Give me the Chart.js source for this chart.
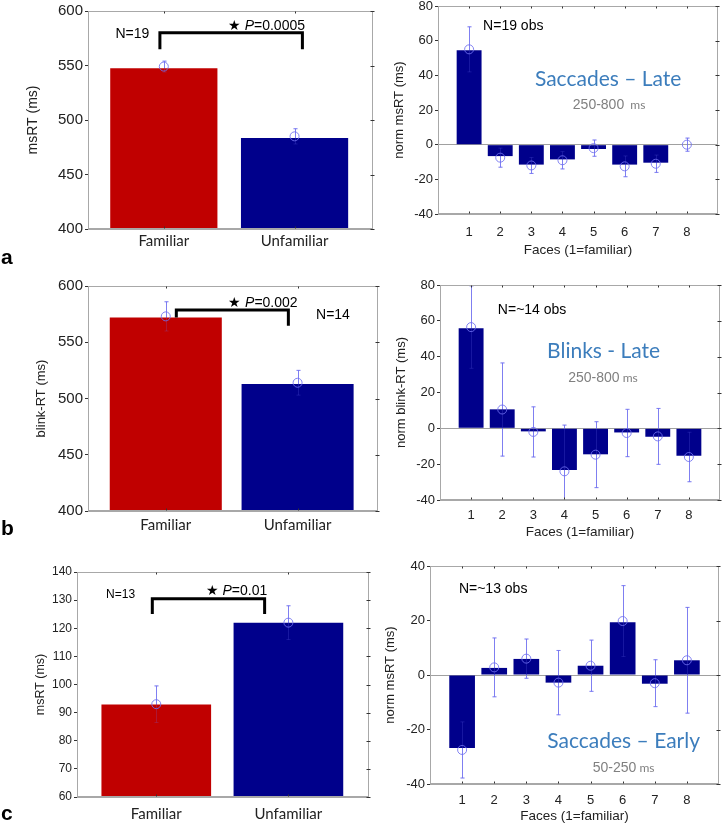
<!DOCTYPE html>
<html>
<head>
<meta charset="utf-8">
<script src="https://cdn.jsdelivr.net/npm/chart.js@4.4.1/dist/chart.umd.min.js"></script>
<style>
body{margin:0;background:#fff;}
#fig{position:relative;width:726px;height:825px;overflow:hidden;background:#fff;}
#fig canvas{position:absolute;}
.tag{position:absolute;left:1px;font:bold 21px "Liberation Sans",Arial,sans-serif;color:#000;line-height:24px;}
</style>
</head>
<body>
<div id="fig">
  <canvas id="aL" width="385" height="262" style="left:0;top:0"></canvas>
  <canvas id="aR" width="346" height="266" style="left:380px;top:-4px"></canvas>
  <canvas id="bL" width="385" height="275" style="left:0;top:262px"></canvas>
  <canvas id="bR" width="346" height="280" style="left:380px;top:262px"></canvas>
  <canvas id="cL" width="385" height="283" style="left:0;top:542px"></canvas>
  <canvas id="cR" width="346" height="283" style="left:380px;top:542px"></canvas>
  <div class="tag" style="top:245px">a</div>
  <div class="tag" style="top:516px">b</div>
  <div class="tag" style="top:801px">c</div>
</div>
<script>
// categories
const groupLabels = ['Familiar', 'Unfamiliar'];
const faces = [1, 2, 3, 4, 5, 6, 7, 8];

// a - saccades late
const sacLateGroupRT = [547.5, 483.5];
const sacLateGroupMean = [549, 485];
const sacLateGroupErr = [5, 7];
const sacLateFaceRT = [54.5, -6.6, -11.5, -8.5, -2.5, -11.5, -10.4, 0];
const sacLateFaceMean = [55, -7.5, -12, -9, -2, -12.5, -11, 0];
const sacLateFaceErr = [13, 5.5, 4.6, 5, 4.7, 6, 5, 3.8];

// b - blinks late
const blinkLateGroupRT = [572, 513];
const blinkLateGroupMean = [573, 514];
const blinkLateGroupErr = [13, 11];
const blinkLateFaceRT = [55.8, 10.6, -1.7, -23.3, -14.5, -2.3, -4.7, -15.3];
const blinkLateFaceMean = [56.5, 10.5, -2, -24, -14.7, -2.6, -4.5, -16];
const blinkLateFaceErr = [23, 26, 14, 25.8, 18.4, 13.2, 15.6, 13.8];

// c - saccades early
const sacEarlyGroupRT = [92.9, 122];
const sacEarlyGroupMean = [93, 122];
const sacEarlyGroupErr = [6.5, 6];
const sacEarlyFaceRT = [-26.8, 2.6, 5.9, -2.8, 3.4, 19.4, -3.2, 5.4];
const sacEarlyFaceMean = [-27.5, 2.8, 6, -2.8, 3.4, 19.8, -3, 5.4];
const sacEarlyFaceErr = [10.3, 10.8, 7.2, 11.8, 9.4, 13, 8.6, 19.4];

const SANS = '"Liberation Sans", Arial, sans-serif';
const CAL = 'Lato, "Open Sans", sans-serif';
const RED = '#c00000', BLUE = '#00008b';
const errColor = 'rgba(110,110,240,0.85)';
const axisGray = '#a8a8a8';
const titleBlue = '#3c7dbc', noteGray = '#808080';

function runs(parts) {
  return parts.map(p => ({text: p[0], font: p[1], color: p[2] || '#000'}));
}
function star(p, size) {
  return runs([['\u2605 ', size + 'px ' + SANS], ['P', 'italic ' + size + 'px ' + SANS], [p, size + 'px ' + SANS]]);
}

function drawRuns(ctx, list, x, y, align) {
  let w = 0, big = 0;
  list.forEach(r => { ctx.font = r.font; w += ctx.measureText(r.text).width; big = Math.max(big, parseFloat(r.font.match(/(\d+(\.\d+)?)px/)[1])); });
  let cx = align === 'left' ? x : align === 'right' ? x - w : x - w / 2;
  ctx.textAlign = 'left';
  ctx.textBaseline = 'alphabetic';
  list.forEach(r => {
    ctx.font = r.font; ctx.fillStyle = r.color;
    ctx.fillText(r.text, cx, y + big * 0.36);
    cx += ctx.measureText(r.text).width;
  });
}

function drawErrors(chart, alpha) {
  const {ctx, chartArea: a, scales: {x, y}} = chart;
  ctx.save();
  ctx.beginPath(); ctx.rect(a.left, a.top, a.width, a.height); ctx.clip();
  ctx.globalAlpha = alpha;
  chart.data.datasets.forEach(ds => {
    if (!ds.errors) return;
    ctx.strokeStyle = errColor; ctx.lineWidth = 1;
    ds.data.forEach((p, i) => {
      const px = Math.round(x.getPixelForValue(p.x)) + 0.5;
      const hi = y.getPixelForValue(p.y + ds.errors[i]);
      const lo = y.getPixelForValue(p.y - ds.errors[i]);
      ctx.beginPath();
      ctx.moveTo(px, hi); ctx.lineTo(px, lo);
      ctx.moveTo(px - 2, hi); ctx.lineTo(px + 2, hi);
      ctx.moveTo(px - 2, lo); ctx.lineTo(px + 2, lo);
      ctx.stroke();
    });
  });
  ctx.restore();
}

// frame, inner ticks, error bars, brackets and notes
const frame = {
  id: 'frame',
  beforeDatasetsDraw(chart) { drawErrors(chart, 1); },
  afterDatasetsDraw(chart) { drawErrors(chart, 0.25); },
  afterDraw(chart, args, o) {
    const {ctx, chartArea: a, scales: {x, y}} = chart;
    ctx.save();
    const L = Math.round(a.left) + 0.5, R = Math.round(a.right) - 0.5;
    const T = Math.round(a.top) + 0.5, B = Math.round(a.bottom) - 0.5;
    ctx.strokeStyle = axisGray; ctx.lineWidth = 1;
    ctx.strokeRect(L, T, R - L, B - T);
    ctx.strokeStyle = '#333';
    ctx.beginPath();
    x.ticks.forEach(t => {
      const px = Math.round(x.getPixelForValue(t.value)) + 0.5;
      ctx.moveTo(px, T); ctx.lineTo(px, T + 2);
      ctx.moveTo(px, B); ctx.lineTo(px, B - 2);
    });
    y.ticks.forEach(t => {
      const py = Math.round(y.getPixelForValue(t.value)) + 0.5;
      ctx.moveTo(R - 2, py); ctx.lineTo(R + 2, py);
    });
    ctx.stroke();
    (o.brackets || []).forEach(b => {
      ctx.strokeStyle = '#000'; ctx.lineWidth = 3; ctx.lineJoin = 'miter';
      ctx.beginPath();
      ctx.moveTo(x.getPixelForValue(b.x1), y.getPixelForValue(b.b1));
      ctx.lineTo(x.getPixelForValue(b.x1), y.getPixelForValue(b.top));
      ctx.lineTo(x.getPixelForValue(b.x2), y.getPixelForValue(b.top));
      ctx.lineTo(x.getPixelForValue(b.x2), y.getPixelForValue(b.b2));
      ctx.stroke();
    });
    (o.notes || []).forEach(n => drawRuns(ctx, n.runs, x.getPixelForValue(n.x), y.getPixelForValue(n.y), n.align));
    ctx.restore();
  }
};

function panel(id, o) {
  const pos = o.labels ? o.labels.map((l, i) => i + 1) : o.cats;
  new Chart(document.getElementById(id), {
    data: {
      datasets: [
        {type: 'line', order: 0, data: pos.map((c, i) => ({x: c, y: o.mean[i]})), errors: o.err,
         showLine: false, pointStyle: 'circle', pointRadius: 4.5, pointBorderWidth: 1,
         borderColor: errColor, backgroundColor: 'rgba(0,0,0,0)'},
        {type: 'bar', order: 1, data: pos.map((c, i) => ({x: c, y: o.vals[i]})),
         backgroundColor: o.colors, borderWidth: 0, barPercentage: o.barPct, categoryPercentage: 1}
      ]
    },
    options: {
      responsive: false, animation: false, devicePixelRatio: 1,
      layout: {padding: {top: o.box.top, right: o.box.right, left: 0, bottom: 0}},
      plugins: {legend: {display: false}, tooltip: {enabled: false},
                frame: {brackets: o.brackets, notes: o.notes}},
      scales: {
        x: {
          type: 'linear', min: o.xMin, max: o.xMax, offset: false,
          afterBuildTicks: s => { s.ticks = pos.map(v => ({value: v})); },
          afterFit: s => { s.height = o.box.xH; },
          grid: {display: false, drawTicks: false},
          border: {color: axisGray},
          ticks: {padding: o.box.xPad, color: '#222', autoSkip: false, maxRotation: 0,
                  font: o.labels ? {family: CAL, size: 15} : {family: SANS, size: 13},
                  callback: v => o.labels ? o.labels[v - 1] : String(v)},
          title: o.xTitle ? {display: true, text: o.xTitle, color: '#222', font: {family: SANS, size: 13.5},
                             padding: {top: 0, bottom: o.box.xtPad}} : {display: false}
        },
        y: {
          min: o.yMin, max: o.yMax,
          afterFit: s => { s.width = o.box.yW; },
          ticks: {stepSize: o.yStep, color: '#222', padding: 2, font: {family: SANS, size: o.fs}},
          grid: {color: c => (o.zero && c.tick && c.tick.value === 0) ? '#a0a0a0' : 'rgba(0,0,0,0)',
                 tickColor: '#333', tickLength: 3},
          border: {color: axisGray},
          title: {display: true, text: o.yTitle, color: '#222', font: {family: SANS, size: o.tfs},
                  padding: {top: o.box.ytPad, bottom: 0}}
        }
      }
    },
    plugins: [frame]
  });
}

const groupColors = [RED, BLUE];

panel('aL', {
  labels: groupLabels, vals: sacLateGroupRT, mean: sacLateGroupMean, err: sacLateGroupErr,
  colors: groupColors, barPct: 0.82, xMin: 0.42, xMax: 2.6, yMin: 400, yMax: 600, yStep: 50, fs: 15, tfs: 14,
  yTitle: 'msRT (ms)',
  box: {top: 10, right: 12, yW: 88, xH: 33, xPad: 3, ytPad: 25},
  brackets: [{x1: 0.97, x2: 2.06, top: 580, b1: 565, b2: 565}],
  notes: [{x: 2.08, y: 587, align: 'right', runs: star('=0.0005', 14)},
          {x: 0.63, y: 580, align: 'left', runs: runs([['N=19', '14px ' + SANS]])}]
});

panel('aR', {
  cats: faces, vals: sacLateFaceRT, mean: sacLateFaceMean, err: sacLateFaceErr,
  colors: BLUE, barPct: 0.8, xMin: 0, xMax: 9, yMin: -40, yMax: 80, yStep: 20, fs: 13, tfs: 13, zero: true,
  yTitle: 'norm msRT (ms)', xTitle: 'Faces (1=familiar)',
  box: {top: 10, right: 8, yW: 58, xH: 48, xPad: 11, ytPad: 12, xtPad: 4},
  notes: [{x: 1.45, y: 69.2, align: 'left', runs: runs([['N=19 obs', '14px ' + SANS]])},
          {x: 5.47, y: 38.1, align: 'center', runs: runs([['Saccades \u2013 Late', '21px ' + CAL, titleBlue]])},
          {x: 5.5, y: 23.4, align: 'center', runs: runs([['250-800', '14px ' + SANS, noteGray], ['  ms', '12px ' + CAL, noteGray]])}]
});

panel('bL', {
  labels: groupLabels, vals: blinkLateGroupRT, mean: blinkLateGroupMean, err: blinkLateGroupErr,
  colors: groupColors, barPct: 0.85, xMin: 0.41, xMax: 2.61, yMin: 400, yMax: 600, yStep: 50, fs: 15, tfs: 13,
  yTitle: 'blink-RT (ms)',
  box: {top: 24, right: 7, yW: 88, xH: 26, xPad: 5, ytPad: 34},
  brackets: [{x1: 1.08, x2: 1.93, top: 578.6, b1: 572, b2: 564.6}],
  notes: [{x: 2.0, y: 585.8, align: 'right', runs: star('=0.002', 14)},
          {x: 2.14, y: 575, align: 'left', runs: runs([['N=14', '14px ' + SANS]])}]
});

panel('bR', {
  cats: faces, vals: blinkLateFaceRT, mean: blinkLateFaceMean, err: blinkLateFaceErr,
  colors: BLUE, barPct: 0.8, xMin: 0, xMax: 9, yMin: -40, yMax: 80, yStep: 20, fs: 13, tfs: 13, zero: true,
  yTitle: 'norm blink-RT (ms)', xTitle: 'Faces (1=familiar)',
  box: {top: 23, right: 6, yW: 60, xH: 42, xPad: 8, ytPad: 14, xtPad: 2},
  notes: [{x: 1.86, y: 66.6, align: 'left', runs: runs([['N=~14 obs', '14px ' + SANS]])},
          {x: 5.26, y: 43.7, align: 'center', runs: runs([['Blinks - Late', '21px ' + CAL, titleBlue]])},
          {x: 5.24, y: 28.7, align: 'center', runs: runs([['250-800', '14px ' + SANS, noteGray], [' ms', '12px ' + CAL, noteGray]])}]
});

panel('cL', {
  labels: groupLabels, vals: sacEarlyGroupRT, mean: sacEarlyGroupMean, err: sacEarlyGroupErr,
  colors: groupColors, barPct: 0.83, xMin: 0.4, xMax: 2.61, yMin: 60, yMax: 140, yStep: 10, fs: 12, tfs: 12.5,
  yTitle: 'msRT (ms)',
  box: {top: 30, right: 16, yW: 77, xH: 28, xPad: 8, ytPad: 33},
  brackets: [{x1: 0.97, x2: 1.82, top: 130.5, b1: 125.1, b2: 125.1}],
  notes: [{x: 1.84, y: 133.7, align: 'right', runs: star('=0.01', 14)},
          {x: 0.62, y: 132.3, align: 'left', runs: runs([['N=13', '12px ' + SANS]])}]
});

panel('cR', {
  cats: faces, vals: sacEarlyFaceRT, mean: sacEarlyFaceMean, err: sacEarlyFaceErr,
  colors: BLUE, barPct: 0.8, xMin: 0, xMax: 9, yMin: -40, yMax: 40, yStep: 20, fs: 13, tfs: 13, zero: true,
  yTitle: 'norm msRT (ms)', xTitle: 'Faces (1=familiar)',
  box: {top: 24, right: 7, yW: 50, xH: 41, xPad: 9, ytPad: 3, xtPad: 1},
  notes: [{x: 0.9, y: 31.8, align: 'left', runs: runs([['N=~13 obs', '14px ' + SANS]])},
          {x: 6.03, y: -24.1, align: 'center', runs: runs([['Saccades \u2013 Early', '21px ' + CAL, titleBlue]])},
          {x: 6.03, y: -33.7, align: 'center', runs: runs([['50-250', '14px ' + SANS, noteGray], [' ms', '12px ' + CAL, noteGray]])}]
});
</script>
</body>
</html>
